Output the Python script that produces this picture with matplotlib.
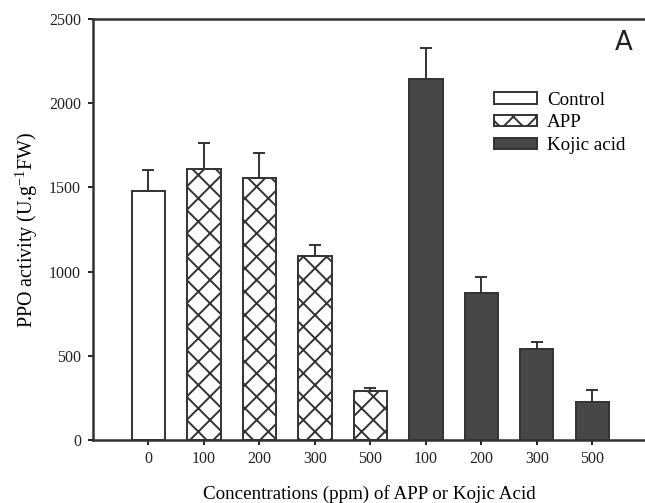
import numpy as np
import matplotlib
matplotlib.use("Agg")
import matplotlib.pyplot as plt
from matplotlib.patches import Patch

# Données
tick_labels = ["0", "100", "200", "300", "500", "100", "200", "300", "500"]
groups = ["Control", "APP", "APP", "APP", "APP",
          "Kojic acid", "Kojic acid", "Kojic acid", "Kojic acid"]
ppo_activity = [1480, 1612, 1558, 1090, 292, 2143, 875, 542, 226]
ppo_err = [125, 150, 145, 70, 18, 184, 95, 40, 72]

DPI = 140
def px(v):  # taille en pixels -> points
    return v * 72 / DPI

plt.rcParams["font.family"] = ["Liberation Serif", "DejaVu Serif"]
plt.rcParams["hatch.linewidth"] = 1.0
plt.rcParams["hatch.color"] = "#222222"

styles = {
    "Control": dict(color="white", hatch=None),
    "APP": dict(color="white", hatch="xx"),
    "Kojic acid": dict(color="#474747", hatch=None),
}

fig = plt.figure(figsize=(645 / DPI, 503 / DPI), dpi=DPI)
ax = fig.add_axes([93 / 645, 1 - 440 / 503, 1 - 93 / 645, 421 / 503])

x = np.arange(len(ppo_activity))
for i, (g, v, e) in enumerate(zip(groups, ppo_activity, ppo_err)):
    st = styles[g]
    ax.bar(x[i], v, width=0.6, color=st["color"], hatch=st["hatch"],
           edgecolor="#333333", linewidth=1.0, zorder=2)
    ax.errorbar(x[i], v, yerr=[[0], [e]], fmt="none", ecolor="#333333",
                elinewidth=1.0, capsize=px(6), capthick=1.0, zorder=3)

ax.set_xlim(-1.0, 8.95)
ax.set_ylim(0, 2500)
ax.set_yticks([0, 500, 1000, 1500, 2000, 2500])
ax.set_xticks(x)
ax.set_xticklabels(tick_labels)
ax.tick_params(axis="both", direction="out", length=px(5), width=1.0,
               labelsize=px(16), colors="#222222")
ax.tick_params(axis="x", pad=px(6))
ax.tick_params(axis="y", pad=px(7))

for side in ["left", "top", "bottom"]:
    ax.spines[side].set_linewidth(1.3)
    ax.spines[side].set_color("#333333")
ax.spines["right"].set_visible(False)

ax.set_xlabel("Concentrations (ppm) of APP or Kojic Acid", fontsize=px(19),
              labelpad=px(18))
ax.set_ylabel("PPO activity (U.g$^{\\mathregular{-1}}$FW)", fontsize=px(20),
              labelpad=px(9))

handles = [Patch(facecolor=styles[k]["color"], hatch=styles[k]["hatch"],
                 edgecolor="#333333", linewidth=1.0, label=k)
           for k in ["Control", "APP", "Kojic acid"]]
ax.legend(handles=handles, loc="upper left",
          bbox_to_anchor=(486 / 645, 1 - 84 / 503),
          bbox_transform=fig.transFigure, frameon=False,
          fontsize=px(19), handlelength=2.3, handleheight=0.55,
          handletextpad=0.5, labelspacing=0.3, borderaxespad=0)

fig.text(615 / 645, 1 - 43 / 503, "A", fontsize=px(26), family="DejaVu Sans",
         ha="left", va="center", color="#222222")

fig.savefig("out.png", dpi=DPI)
